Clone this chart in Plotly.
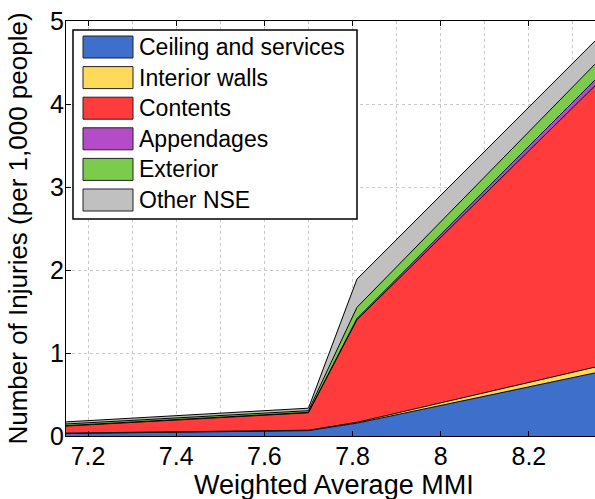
import plotly.graph_objects as go

# ---- data ----
mmi = [7.15, 7.70, 7.81, 8.35]
series_names = ["Ceiling and services", "Interior walls", "Contents",
                "Appendages", "Exterior", "Other NSE"]
ceiling = [0.03, 0.065, 0.155, 0.76]
interior_walls = [0.005, 0.005, 0.01, 0.07]
contents = [0.085, 0.21, 1.235, 3.39]
appendages = [0.005, 0.005, 0.015, 0.07]
exterior = [0.02, 0.02, 0.135, 0.19]
other_nse = [0.025, 0.03, 0.34, 0.28]
series_values = [ceiling, interior_walls, contents, appendages, exterior, other_nse]
colors = ["#3D6FCB", "#FFD95A", "#FF3B3B", "#B44CC8", "#7ACC4A", "#C0C0C0"]

x_ticks = [7.2, 7.4, 7.6, 7.8, 8.0, 8.2]
x_tick_labels = ["7.2", "7.4", "7.6", "7.8", "8", "8.2"]
y_ticks = [0, 1, 2, 3, 4, 5]
x_title = "Weighted Average MMI"
y_title = "Number of Injuries (per 1,000 people)"

FONT = "Liberation Sans, Arial, sans-serif"
W, H = 595, 499
ML, MR, MT, MB = 66, 0, 21, 63

fig = go.Figure()
for name, vals, col in zip(series_names, series_values, colors):
    fig.add_trace(go.Scatter(
        x=mmi, y=vals, name=name, mode="lines", stackgroup="one",
        fillcolor=col, line=dict(color="black", width=1),
        showlegend=False, hoverinfo="x+y+name"))

# ---- custom MATLAB-style legend (layout decoration) ----
pw, ph = W - ML - MR, H - MT - MB
def px(x):
    return (x - ML) / pw
def py(y):
    return (H - MB - y) / ph

shapes = []
annotations = []
shapes.append(dict(type="rect", xref="paper", yref="paper",
                   x0=px(73), x1=px(357), y0=py(219), y1=py(30),
                   fillcolor="white", line=dict(color="black", width=1.5),
                   layer="above"))
for i, (name, col) in enumerate(zip(series_names, colors)):
    cy = 47 + 30.6 * i
    shapes.append(dict(type="rect", xref="paper", yref="paper",
                       x0=px(83), x1=px(133), y0=py(cy + 11), y1=py(cy - 11),
                       fillcolor=col, line=dict(color="#222222", width=1),
                       layer="above"))
    annotations.append(dict(xref="paper", yref="paper", x=px(137), y=py(cy),
                            text=name, showarrow=False, xanchor="left",
                            yanchor="middle",
                            font=dict(family=FONT, size=23, color="black")))

# x-axis title as annotation, placed just below the tick labels
annotations.append(dict(xref="paper", yref="paper", x=px(334), y=py(468),
                        text=x_title, showarrow=False, xanchor="center",
                        yanchor="top",
                        font=dict(family=FONT, size=27, color="black")))

fig.update_layout(
    width=W, height=H,
    margin=dict(l=ML, r=MR, t=MT, b=MB),
    paper_bgcolor="white", plot_bgcolor="white",
    showlegend=False,
    shapes=shapes, annotations=annotations,
    font=dict(family=FONT, color="black"),
)
fig.update_xaxes(
    range=[7.15, 8.35], tickvals=x_ticks, ticktext=x_tick_labels,
    ticks="inside", ticklen=5, tickcolor="black",
    showline=True, linecolor="black", linewidth=1, mirror="ticks",
    showgrid=True, gridcolor="#c8c8c8", griddash="dot", gridwidth=1,
    minor=dict(dtick=0.1, tick0=7.1, showgrid=True, gridcolor="#c8c8c8",
               griddash="dot", ticks=""),
    tickfont=dict(size=25, family=FONT, color="black"),
    ticklabelstandoff=-2,
    automargin=False, zeroline=False,
)
fig.update_yaxes(
    range=[0, 5], tickvals=y_ticks,
    ticks="inside", ticklen=5, tickcolor="black",
    showline=True, linecolor="black", linewidth=1, mirror=False,
    showgrid=True, gridcolor="#c8c8c8", griddash="dot", gridwidth=1,
    tickfont=dict(size=25, family=FONT, color="black"),
    ticklabelstandoff=-4,
    title=dict(text=y_title, standoff=14,
               font=dict(size=26, family=FONT, color="black")),
    automargin=False, zeroline=False,
)

fig.write_html("out.html", config={"displayModeBar": False},
               post_script="document.body.style.margin='0px';document.body.style.overflow='hidden';")
